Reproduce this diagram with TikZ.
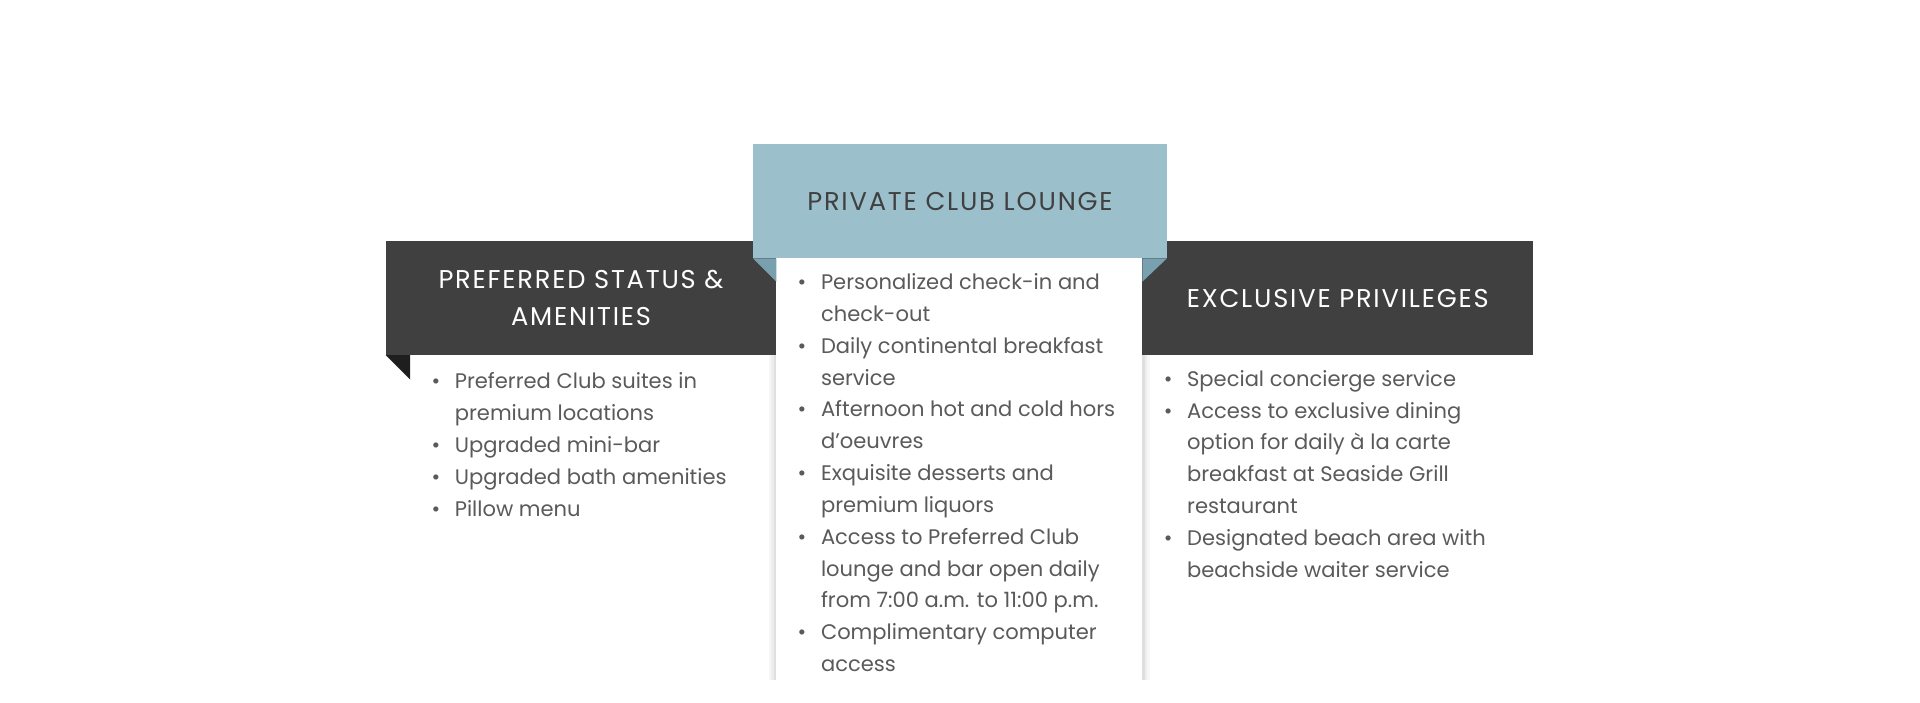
\documentclass[tikz,border=0pt]{standalone}
\usepackage{fontspec}
\setmainfont{Poppins}
\usetikzlibrary{positioning}
\definecolor{bannerdark}{RGB}{64,64,64}
\definecolor{foldblack}{RGB}{30,30,30}
\definecolor{clubblue}{RGB}{155,191,203}
\definecolor{foldblue}{RGB}{120,160,175}
\definecolor{listgray}{RGB}{90,90,90}
\newcommand{\bul}{\textbullet\hspace{6pt}}
\begin{document}
\begin{tikzpicture}[x=0.5pt,y=-0.5pt,
    banner/.style={fill=bannerdark, text=white, align=center, inner sep=0pt,
      font=\fontsize{10.5}{15}\selectfont\addfontfeatures{LetterSpace=7}},
    itemlist/.style={anchor=north west, align=left, inner sep=0pt, text=listgray,
      font=\fontsize{8.6}{13}\selectfont}]
    \useasboundingbox (0,0) rectangle (1568,574);

    % Schatten der Mittelkarte
    \foreach \s/\o in {6/0.03,4/0.04,2/0.06} {
        \fill[black, opacity=\o] (634-\s,211) rectangle (933+\s,555);
    }
    \fill[white] (634,211) rectangle (933,555);

    % Banner links und rechts
    \node[banner, minimum width=319*0.5pt, minimum height=93*0.5pt] (prefbanner) at (474.5,243.5) {PREFERRED STATUS \&\\AMENITIES};
    \node[banner, minimum width=319*0.5pt, minimum height=93*0.5pt] (exclbanner) at (1092.5,243.5) {EXCLUSIVE PRIVILEGES};
    \fill[foldblack] (315,290) -- (335,290) -- (335,310) -- cycle;

    % Mittlerer Kopf
    \fill[foldblue] (615,211) -- (634,211) -- (634,230) -- cycle;
    \fill[foldblue] (953,211) -- (933,211) -- (933,230) -- cycle;
    \node[banner, fill=clubblue, text=bannerdark, minimum width=338*0.5pt, minimum height=93*0.5pt] (clubhead) at (784,164.5) {PRIVATE CLUB LOUNGE};

    % Listen
    \node[itemlist] (preflist) at (352,304) {%
        \bul Preferred Club suites in\\
        \phantom{\bul}premium locations\\
        \bul Upgraded mini-bar\\
        \bul Upgraded bath amenities\\
        \bul Pillow menu};
    \node[itemlist] (clublist) at (651,223) {%
        \bul Personalized check-in and\\
        \phantom{\bul}check-out\\
        \bul Daily continental breakfast\\
        \phantom{\bul}service\\
        \bul Afternoon hot and cold hors\\
        \phantom{\bul}d’oeuvres\\
        \bul Exquisite desserts and\\
        \phantom{\bul}premium liquors\\
        \bul Access to Preferred Club\\
        \phantom{\bul}lounge and bar open daily\\
        \phantom{\bul}from 7:00 a.m. to 11:00 p.m.\\
        \bul Complimentary computer\\
        \phantom{\bul}access};
    \node[itemlist] (excllist) at (950,302) {%
        \bul Special concierge service\\
        \bul Access to exclusive dining\\
        \phantom{\bul}option for daily à la carte\\
        \phantom{\bul}breakfast at Seaside Grill\\
        \phantom{\bul}restaurant\\
        \bul Designated beach area with\\
        \phantom{\bul}beachside waiter service};
\end{tikzpicture}
\end{document}
